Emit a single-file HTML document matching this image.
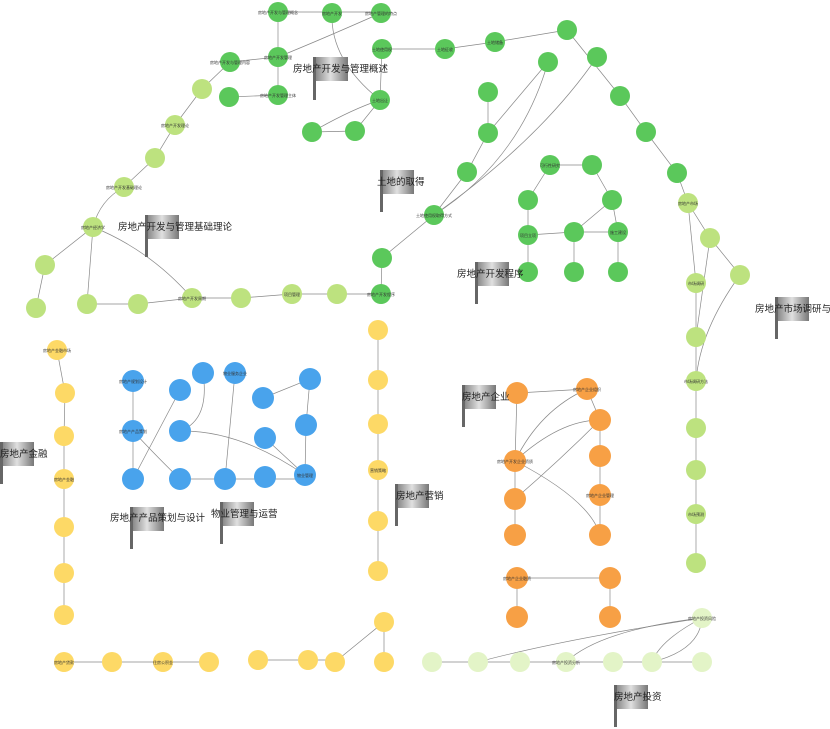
<!DOCTYPE html>
<html><head><meta charset="utf-8"><style>
html,body{margin:0;padding:0;background:#fff;width:830px;height:729px;overflow:hidden}
svg{display:block;font-family:"Liberation Sans","Noto Sans CJK SC",sans-serif}
.e{stroke:#888;stroke-width:0.7;fill:none}
.g{fill:#5bc85b}.l{fill:#bde27f}.b{fill:#49a3ec}.o{fill:#f7a045}.y{fill:#fdd966}.p{fill:#e3f4c7}
.t{font-size:4px;fill:#333;text-anchor:middle}
.f{font-size:9.5px;fill:#222}
</style></head><body>
<svg width="830" height="729" viewBox="0 0 830 729">
<defs><linearGradient id="fg" x1="0" x2="1"><stop offset="0" stop-color="#777"/><stop offset="0.5" stop-color="#e0e0e0"/><stop offset="1" stop-color="#777"/></linearGradient></defs>
<g class="e">
<path d="M278 12H332H381"/><path d="M278 12V57V95"/><path d="M230 62L278 57"/><path d="M229 97L278 95"/>
<path d="M381 13Q320 40 278 57"/><path d="M380 100L382 49L445 49L495 42L567 30"/>
<path d="M380 100Q330 60 332 13"/><path d="M312 132L355 131L380 100"/><path d="M312 132Q350 110 380 100"/>
<path d="M230 62L202 89L175 125L155 158L124 187"/><path d="M124 187Q100 200 93 227L45 265L36 308"/>
<path d="M93 227L87 304L138 304L192 298L241 298L292 294L337 294L381 294"/><path d="M93 227Q150 250 192 298"/>
<path d="M381 294L382 258L434 215L467 172L488 133L488 92"/><path d="M434 215Q520 160 548 62"/><path d="M434 215Q540 140 597 57"/>
<path d="M488 133L548 62"/><path d="M567 30L620 96L646 132L677 173L688 203"/>
<path d="M550 165L528 200L528 235L528 272"/><path d="M592 165L612 200L618 232L618 272"/><path d="M528 235L574 232L618 232"/><path d="M574 232L574 272"/><path d="M550 165L592 165"/><path d="M612 200L574 232"/>
<path d="M688 203L696 283L696 337L696 381L696 428"/><path d="M688 203L710 238L740 275"/><path d="M710 238L696 337"/><path d="M740 275Q700 330 696 381"/>
<path d="M696 428L696 470L696 514L696 563"/>
<path d="M133 381V431V479"/><path d="M133 431Q160 460 180 479H225H265H305"/><path d="M203 373Q210 420 180 431"/><path d="M235 373L225 479"/><path d="M180 390L133 479"/>
<path d="M310 379L263 398"/><path d="M310 379L306 425L305 475"/><path d="M265 438L305 475"/><path d="M305 475Q240 430 180 431"/>
<path d="M517 393L587 389"/><path d="M517 393L515 461L515 499L515 535"/><path d="M587 389L600 420L600 456L600 495L600 535"/>
<path d="M515 461Q560 420 600 420"/><path d="M515 461Q540 410 587 389"/><path d="M515 499Q560 460 600 420"/><path d="M515 461Q590 500 600 535"/>
<path d="M517 578H610"/><path d="M517 578V617"/><path d="M610 578V617"/>
<path d="M57 350L65 393L64 436L64 479L64 527L64 573L64 615"/><path d="M378 330V571"/>
<path d="M64 662H112H163H209"/><path d="M258 660H308H335"/><path d="M335 662L384 622L384 662"/>
<path d="M432 662H478H520H566H613H652H702"/><path d="M702 618Q560 640 478 662"/><path d="M702 618Q600 630 566 662"/><path d="M702 618Q660 640 652 662"/><path d="M702 618Q700 650 652 662"/>
</g>
<g>
<g class="g">
<circle cx="278" cy="12" r="10"/><circle cx="332" cy="13" r="10"/><circle cx="381" cy="13" r="10"/><circle cx="230" cy="62" r="10"/><circle cx="278" cy="57" r="10"/><circle cx="278" cy="95" r="10"/><circle cx="229" cy="97" r="10"/><circle cx="382" cy="49" r="10"/><circle cx="445" cy="49" r="10"/><circle cx="495" cy="42" r="10"/><circle cx="567" cy="30" r="10"/><circle cx="548" cy="62" r="10"/><circle cx="597" cy="57" r="10"/><circle cx="380" cy="100" r="10"/><circle cx="355" cy="131" r="10"/><circle cx="312" cy="132" r="10"/><circle cx="488" cy="92" r="10"/><circle cx="488" cy="133" r="10"/><circle cx="467" cy="172" r="10"/><circle cx="434" cy="215" r="10"/><circle cx="382" cy="258" r="10"/><circle cx="381" cy="294" r="10"/><circle cx="620" cy="96" r="10"/><circle cx="646" cy="132" r="10"/><circle cx="677" cy="173" r="10"/>
<circle cx="550" cy="165" r="10"/><circle cx="592" cy="165" r="10"/><circle cx="528" cy="200" r="10"/><circle cx="612" cy="200" r="10"/><circle cx="528" cy="235" r="10"/><circle cx="574" cy="232" r="10"/><circle cx="618" cy="232" r="10"/><circle cx="528" cy="272" r="10"/><circle cx="574" cy="272" r="10"/><circle cx="618" cy="272" r="10"/>
</g>
<g class="l">
<circle cx="202" cy="89" r="10"/><circle cx="175" cy="125" r="10"/><circle cx="155" cy="158" r="10"/><circle cx="124" cy="187" r="10"/><circle cx="93" cy="227" r="10"/><circle cx="45" cy="265" r="10"/><circle cx="36" cy="308" r="10"/><circle cx="87" cy="304" r="10"/><circle cx="138" cy="304" r="10"/><circle cx="192" cy="298" r="10"/><circle cx="241" cy="298" r="10"/><circle cx="292" cy="294" r="10"/><circle cx="337" cy="294" r="10"/>
<circle cx="688" cy="203" r="10"/><circle cx="710" cy="238" r="10"/><circle cx="740" cy="275" r="10"/><circle cx="696" cy="283" r="10"/><circle cx="696" cy="337" r="10"/><circle cx="696" cy="381" r="10"/><circle cx="696" cy="428" r="10"/><circle cx="696" cy="470" r="10"/><circle cx="696" cy="514" r="10"/><circle cx="696" cy="563" r="10"/>
</g>
<g class="b">
<circle cx="133" cy="381" r="11"/><circle cx="180" cy="390" r="11"/><circle cx="203" cy="373" r="11"/><circle cx="235" cy="373" r="11"/><circle cx="133" cy="431" r="11"/><circle cx="180" cy="431" r="11"/><circle cx="310" cy="379" r="11"/><circle cx="263" cy="398" r="11"/><circle cx="306" cy="425" r="11"/><circle cx="265" cy="438" r="11"/><circle cx="133" cy="479" r="11"/><circle cx="180" cy="479" r="11"/><circle cx="225" cy="479" r="11"/><circle cx="265" cy="477" r="11"/><circle cx="305" cy="475" r="11"/>
</g>
<g class="o">
<circle cx="517" cy="393" r="11"/><circle cx="587" cy="389" r="11"/><circle cx="600" cy="420" r="11"/><circle cx="600" cy="456" r="11"/><circle cx="515" cy="461" r="11"/><circle cx="515" cy="499" r="11"/><circle cx="600" cy="495" r="11"/><circle cx="515" cy="535" r="11"/><circle cx="600" cy="535" r="11"/><circle cx="517" cy="578" r="11"/><circle cx="610" cy="578" r="11"/><circle cx="517" cy="617" r="11"/><circle cx="610" cy="617" r="11"/>
</g>
<g class="y">
<circle cx="57" cy="350" r="10"/><circle cx="65" cy="393" r="10"/><circle cx="64" cy="436" r="10"/><circle cx="64" cy="479" r="10"/><circle cx="64" cy="527" r="10"/><circle cx="64" cy="573" r="10"/><circle cx="64" cy="615" r="10"/><circle cx="378" cy="330" r="10"/><circle cx="378" cy="380" r="10"/><circle cx="378" cy="424" r="10"/><circle cx="378" cy="470" r="10"/><circle cx="378" cy="521" r="10"/><circle cx="378" cy="571" r="10"/><circle cx="64" cy="662" r="10"/><circle cx="112" cy="662" r="10"/><circle cx="163" cy="662" r="10"/><circle cx="209" cy="662" r="10"/><circle cx="258" cy="660" r="10"/><circle cx="308" cy="660" r="10"/><circle cx="335" cy="662" r="10"/><circle cx="384" cy="622" r="10"/><circle cx="384" cy="662" r="10"/>
</g>
<g class="p">
<circle cx="432" cy="662" r="10"/><circle cx="478" cy="662" r="10"/><circle cx="520" cy="662" r="10"/><circle cx="566" cy="662" r="10"/><circle cx="613" cy="662" r="10"/><circle cx="652" cy="662" r="10"/><circle cx="702" cy="662" r="10"/><circle cx="702" cy="618" r="10"/>
</g>
</g>
<g class="t">
<text x="278" y="14">房地产开发与管理概念</text><text x="332" y="15">房地产开发</text><text x="381" y="15">房地产管理的特点</text>
<text x="230" y="64">房地产开发与管理内容</text><text x="278" y="59">房地产开发管理</text><text x="278" y="97">房地产开发管理主体</text>
<text x="382" y="51">土地使用权</text><text x="445" y="51">土地征收</text><text x="495" y="44">土地储备</text><text x="380" y="102">土地出让</text>
<text x="434" y="217">土地使用权取得方式</text><text x="381" y="296">房地产开发程序</text><text x="696" y="383">市场调研方法</text>
<text x="133" y="433">房地产产品策划</text><text x="305" y="477">物业管理</text><text x="515" y="463">房地产开发企业资质</text>
<text x="600" y="497">房地产企业管理</text><text x="64" y="481">房地产金融</text><text x="378" y="472">营销策略</text>
<text x="566" y="664">房地产投资分析</text><text x="702" y="620">房地产投资风险</text>
<text x="175" y="127">房地产开发理论</text><text x="124" y="189">房地产开发基础理论</text><text x="93" y="229">房地产经济学</text>
<text x="192" y="300">房地产开发周期</text><text x="292" y="296">项目管理</text><text x="133" y="383">房地产规划设计</text>
<text x="235" y="375">物业服务企业</text><text x="587" y="391">房地产企业组织</text><text x="517" y="580">房地产企业融资</text>
<text x="57" y="352">房地产金融市场</text><text x="64" y="664">房地产贷款</text><text x="163" y="664">住房公积金</text>
<text x="550" y="167">可行性研究</text><text x="528" y="237">项目立项</text><text x="618" y="234">施工建设</text>
<text x="688" y="205">房地产市场</text><text x="696" y="285">市场调研</text><text x="696" y="516">市场预测</text>
</g>
<g>
<rect x="313" y="57" width="35" height="24" fill="url(#fg)"/><rect x="313" y="57" width="3" height="43" fill="#666"/><text class="f" x="293" y="72">房地产开发与管理概述</text>
<rect x="380" y="170" width="34" height="24" fill="url(#fg)"/><rect x="380" y="170" width="3" height="42" fill="#666"/><text class="f" x="377" y="185">土地的取得</text>
<rect x="145" y="215" width="34" height="24" fill="url(#fg)"/><rect x="145" y="215" width="3" height="42" fill="#666"/><text class="f" x="118" y="230">房地产开发与管理基础理论</text>
<rect x="475" y="262" width="34" height="24" fill="url(#fg)"/><rect x="475" y="262" width="3" height="42" fill="#666"/><text class="f" x="457" y="277">房地产开发程序</text>
<rect x="775" y="297" width="34" height="24" fill="url(#fg)"/><rect x="775" y="297" width="3" height="42" fill="#666"/><text class="f" x="755" y="312">房地产市场调研与分析</text>
<rect x="462" y="385" width="34" height="24" fill="url(#fg)"/><rect x="462" y="385" width="3" height="42" fill="#666"/><text class="f" x="462" y="400">房地产企业</text>
<rect x="395" y="484" width="34" height="24" fill="url(#fg)"/><rect x="395" y="484" width="3" height="42" fill="#666"/><text class="f" x="396" y="499">房地产营销</text>
<rect x="130" y="507" width="34" height="24" fill="url(#fg)"/><rect x="130" y="507" width="3" height="42" fill="#666"/><text class="f" x="110" y="521">房地产产品策划与设计</text>
<rect x="220" y="502" width="34" height="24" fill="url(#fg)"/><rect x="220" y="502" width="3" height="42" fill="#666"/><text class="f" x="211" y="517">物业管理与运营</text>
<rect x="0" y="442" width="34" height="24" fill="url(#fg)"/><rect x="0" y="442" width="3" height="42" fill="#666"/><text class="f" x="0" y="457">房地产金融</text>
<rect x="614" y="685" width="34" height="24" fill="url(#fg)"/><rect x="614" y="685" width="3" height="42" fill="#666"/><text class="f" x="614" y="700">房地产投资</text>
</g>
</svg>
</body></html>
